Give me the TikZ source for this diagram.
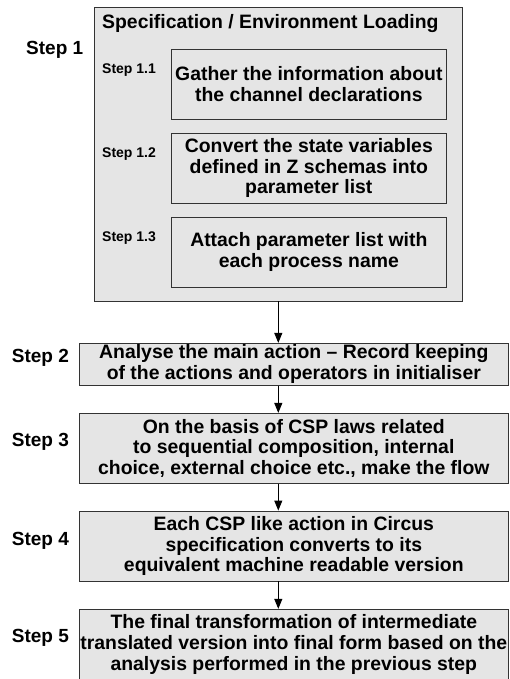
\documentclass[tikz,border=0pt]{standalone}
\usepackage{fontspec}
\setmainfont{Liberation Sans}
\usetikzlibrary{arrows.meta}
\begin{document}
\begin{tikzpicture}[x=1pt,y=1pt,
  box/.style={draw=black!80, fill=black!10, line width=0.9pt, inner sep=0pt, align=center,
    font=\fontsize{19.4}{20.7}\selectfont\bfseries},
  steplabel/.style={inner sep=0pt, anchor=base west, font=\fontsize{19}{21}\selectfont\bfseries},
  substep/.style={inner sep=0pt, anchor=base west, font=\fontsize{14}{16}\selectfont\bfseries},
  flow/.style={draw=black, line width=0.9pt, -{Triangle[length=10pt,width=8pt]}}]
\useasboundingbox (0,0) rectangle (509,-679);
% outer step 1 box
\node[box, minimum width=367.6pt, minimum height=294pt] (outer) at (278.5,-154) {};
\node[inner sep=0pt, anchor=base west, font=\fontsize{19.4}{21}\selectfont\bfseries] (title) at (102,-28.3) {Specification / Environment Loading};
\node[box, minimum width=275.7pt, minimum height=69.7pt] (b11) at (308.85,-84.2) {Gather the information about\\the channel declarations};
\node[box, minimum width=275.7pt, minimum height=69.7pt] (b12) at (308.85,-168.2) {Convert the state variables\\defined in Z schemas into\\parameter list};
\node[box, minimum width=275.7pt, minimum height=69.7pt] (b13) at (308.85,-252.2) {Attach parameter list with\\each process name};
\node[steplabel] (s1) at (26,-55) {Step 1};
\node[substep] (s11) at (102,-73.3) {Step 1.1};
\node[substep] (s12) at (102,-157.3) {Step 1.2};
\node[substep] (s13) at (102,-241.3) {Step 1.3};
% main steps
\node[box, minimum width=429pt, minimum height=41.7pt] (b2) at (293.8,-364.2) {Analyse the main action -- Record keeping\\of the actions and operators in initialiser};
\node[box, minimum width=429pt, minimum height=69.7pt] (b3) at (293.8,-448.2) {On the basis of CSP laws related\\to sequential composition, internal\\choice, external choice etc., make the flow};
\node[box, minimum width=429pt, minimum height=70pt] (b4) at (293.8,-546) {Each CSP like action in Circus\\specification converts to its\\equivalent machine readable version};
\node[box, minimum width=429pt, minimum height=70pt] (b5) at (293.8,-644.3) {The final transformation of intermediate\\translated version into final form based on the\\analysis performed in the previous step};
\node[steplabel] (s2) at (11.7,-362.7) {Step 2};
\node[steplabel] (s3) at (11.7,-446.7) {Step 3};
\node[steplabel] (s4) at (11.7,-545) {Step 4};
\node[steplabel] (s5) at (11.7,-642.7) {Step 5};
% connectors
\coordinate (ax) at (278.3,0);
\draw[flow] (ax |- outer.south) -- (ax |- b2.north);
\draw[flow] (ax |- b2.south) -- (ax |- b3.north);
\draw[flow] (ax |- b3.south) -- (ax |- b4.north);
\draw[flow] (ax |- b4.south) -- (ax |- b5.north);
\end{tikzpicture}
\end{document}
